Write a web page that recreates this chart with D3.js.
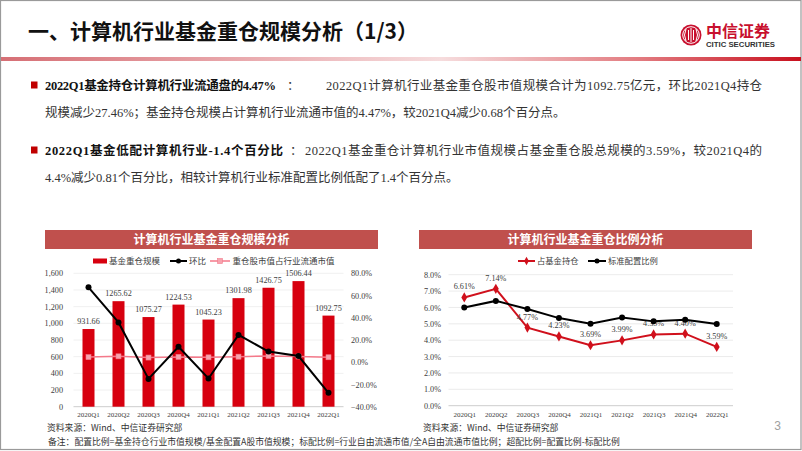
<!DOCTYPE html>
<html><head><meta charset="utf-8">
<script src="https://cdn.jsdelivr.net/npm/d3@7"></script>
<style>body{margin:0;background:#fff} svg{display:block}</style>
</head><body><svg id="c" width="802" height="451"></svg>
<script>
// ---------- data ----------
const categories = ["2020Q1","2020Q2","2020Q3","2020Q4","2021Q1","2021Q2","2021Q3","2021Q4","2022Q1"];
const holdingScale = [931.66,1265.62,1075.27,1224.53,1045.23,1301.98,1426.75,1506.44,1092.75];
const qoqChange = [67.4,35.8,-15.0,13.9,-14.6,24.6,9.6,5.6,-27.5];
const shareOfFloat = [4.6,5.3,4.2,4.8,4.4,5.0,5.6,5.15,4.47];
const leftTicks = [0,200,400,600,800,1000,1200,1400,1600];
const rightTicks = [-40,-20,0,20,40,60,80];
const fundShare = [6.61,7.14,4.77,4.23,3.69,3.99,4.35,4.40,3.59];
const standardShare = [6.0,6.4,5.9,5.35,5.0,5.38,5.15,5.25,4.99];
const ratioTicks = [0,1,2,3,4,5,6,7,8];

const SERIF = "'Liberation Serif','Times New Roman',serif";
const CJK = "'Noto Sans CJK SC','Microsoft YaHei',sans-serif";
const MIX = "'Liberation Serif','Noto Sans CJK SC',serif";

const svg = d3.select("#c");

// ---------- page frame ----------
svg.append("rect").attr("x",0.5).attr("y",0.5).attr("width",800.5).attr("height",449)
  .attr("fill","#fff").attr("stroke","#9a9a9a").attr("stroke-width",1.2);

const defs = svg.append("defs");
const g1 = defs.append("linearGradient").attr("id","hdr").attr("x1","0").attr("x2","1");
[[0,"#d66f75"],[0.3,"#e9a9ad"],[0.55,"#f6dcdd"],[0.8,"#e27a7f"],[1,"#c8101e"]].forEach(s=>
  g1.append("stop").attr("offset",s[0]).attr("stop-color",s[1]));
svg.append("rect").attr("x",1).attr("y",57).attr("width",800).attr("height",4).attr("fill","url(#hdr)");

svg.append("text").attr("x",28).attr("y",39).attr("font-family",CJK).attr("font-weight","bold")
  .attr("font-size",21).attr("fill","#111").text("一、计算机行业基金重仓规模分析（1/3）");

// logo
const logo = svg.append("g");
logo.append("circle").attr("cx",691).attr("cy",35).attr("r",10.5).attr("fill","#c8102e");
logo.append("circle").attr("cx",691).attr("cy",35).attr("r",8.3).attr("fill","none").attr("stroke","#fff").attr("stroke-width",1);
logo.append("path").attr("d","M686,29 Q683,35 686,41 M691,28 L691,42 M696,29 Q699,35 696,41 M688.5,30 L688.5,40 M693.5,30 L693.5,40")
  .attr("stroke","#fff").attr("stroke-width",1).attr("fill","none");
logo.append("text").attr("x",706).attr("y",37).attr("font-family",CJK).attr("font-weight","bold")
  .attr("font-size",16).attr("fill","#c8102e").text("中信证券");
logo.append("text").attr("x",706).attr("y",47).attr("font-family","'Liberation Sans',Arial,sans-serif").attr("font-weight","bold")
  .attr("font-size",7).attr("fill","#333").attr("textLength",69).attr("lengthAdjust","spacingAndGlyphs").text("CITIC SECURITIES");

// ---------- paragraphs ----------
const paraSegments = [
  {y:90, bullet:true, segs:[
    {x:45, w:231, bold:true, t:"2022Q1基金持仓计算机行业流通盘的4.47%"},
    {x:287, bold:false, t:"："},
    {x:326, w:436, bold:false, t:"2022Q1计算机行业基金重仓股市值规模合计为1092.75亿元，环比2021Q4持仓"}]},
  {y:117, segs:[{x:45, bold:false, t:"规模减少27.46%；基金持仓规模占计算机行业流通市值的4.47%，较2021Q4减少0.68个百分点。"}]},
  {y:155, bullet:true, segs:[
    {x:45, w:238, bold:true, t:"2022Q1基金低配计算机行业-1.4个百分比"},
    {x:290, bold:false, t:"："},
    {x:305, w:457, bold:false, t:"2022Q1基金重仓计算机行业市值规模占基金重仓股总规模的3.59%，较2021Q4的"}]},
  {y:182, segs:[{x:45, bold:false, t:"4.4%减少0.81个百分比，相较计算机行业标准配置比例低配了1.4个百分点。"}]}
];
paraSegments.forEach(p=>{
  if(p.bullet) svg.append("rect").attr("x",31).attr("y",p.y-8.5).attr("width",6.5).attr("height",7).attr("fill","#c00000");
  p.segs.forEach(s=>{
    const t = svg.append("text").attr("x",s.x).attr("y",p.y).attr("font-family",MIX).attr("font-size",12.5)
      .attr("fill",s.bold?"#111":"#333").attr("font-weight",s.bold?"bold":"normal").text(s.t);
    if(s.w) t.attr("textLength",s.w).attr("lengthAdjust","spacing");
  });
});

// ---------- left chart ----------
function banner(x0,x1,title){
  svg.append("rect").attr("x",x0).attr("y",230).attr("width",x1-x0).attr("height",19).attr("fill","#c0504d");
  svg.append("text").attr("x",(x0+x1)/2).attr("y",244).attr("text-anchor","middle").attr("font-family",CJK)
    .attr("font-weight","bold").attr("font-size",12).attr("fill","#fff").text(title);
}
banner(45,378,"计算机行业基金重仓规模分析");

const xL = d3.scaleBand().domain(categories).range([73.5,343.5]).paddingInner(0.6).paddingOuter(0.3);
const yL = d3.scaleLinear().domain([0,1600]).range([406.7,273.3]);
const yR = d3.scaleLinear().domain([-40,80]).range([406.7,273.3]);
const L = svg.append("g");

L.selectAll(".gl").data(leftTicks.slice(1)).join("line")
  .attr("x1",73.5).attr("x2",343.5).attr("y1",d=>yL(d)).attr("y2",d=>yL(d)).attr("stroke","#ececec").attr("stroke-width",0.8);
L.append("line").attr("x1",73.5).attr("x2",343.5).attr("y1",yL(0)).attr("y2",yL(0)).attr("stroke","#bfbfbf").attr("stroke-width",0.8);

const axL = d3.axisLeft(yL).tickValues(leftTicks).tickFormat(d3.format(",")).tickSize(0).tickPadding(0);
const gAxL = L.append("g").attr("transform","translate(63,0)").call(axL);
gAxL.select(".domain").remove();
gAxL.selectAll("text").attr("font-family",SERIF).attr("font-size",8.2).attr("fill","#404040");

const axR = d3.axisRight(yR).tickValues(rightTicks).tickFormat(d=>d3.format(".1f")(d)+"%").tickSize(0).tickPadding(0);
const gAxR = L.append("g").attr("transform","translate(351,0)").call(axR);
gAxR.select(".domain").remove();
gAxR.selectAll("text").attr("font-family",SERIF).attr("font-size",8.2).attr("fill","#404040");

const axB = d3.axisBottom(xL).tickSize(0).tickPadding(0);
const gAxB = L.append("g").attr("transform",`translate(0,${yL(0)+5})`).call(axB);
gAxB.select(".domain").remove();
gAxB.selectAll("text").attr("font-family",SERIF).attr("font-size",7).attr("fill","#404040");

L.selectAll(".bar").data(holdingScale).join("rect")
  .attr("x",(d,i)=>xL(categories[i])).attr("width",xL.bandwidth())
  .attr("y",d=>yL(d)).attr("height",d=>yL(0)-yL(d)).attr("fill","#d7000f");
L.selectAll(".bl").data(holdingScale).join("text")
  .attr("x",(d,i)=>xL(categories[i])+xL.bandwidth()/2).attr("y",d=>yL(d)-5)
  .attr("text-anchor","middle").attr("font-family",SERIF).attr("font-size",8.2).attr("fill","#404040")
  .text(d=>d.toFixed(2));

const cx = i=>xL(categories[i])+xL.bandwidth()/2;
const lineL = d3.line().x((d,i)=>cx(i)).y(d=>yR(d));
L.append("path").attr("d",lineL(shareOfFloat)).attr("fill","none").attr("stroke","#f4798a").attr("stroke-width",1.5);
L.selectAll(".pm").data(shareOfFloat).join("rect")
  .attr("x",(d,i)=>cx(i)-2.5).attr("y",d=>yR(d)-2.5).attr("width",5).attr("height",5)
  .attr("fill","#f7a3ae").attr("stroke","#f4798a").attr("stroke-width",0.6);

L.append("path").attr("d",lineL(qoqChange)).attr("fill","none").attr("stroke","#000").attr("stroke-width",2);
L.selectAll(".qm").data(qoqChange).join("circle")
  .attr("cx",(d,i)=>cx(i)).attr("cy",d=>yR(d)).attr("r",3).attr("fill","#000");

// left legend
const lg = svg.append("g").attr("font-family",CJK).attr("font-size",8.5).attr("fill","#404040");
lg.append("rect").attr("x",93).attr("y",258.5).attr("width",14).attr("height",5).attr("fill","#d7000f");
lg.append("text").attr("x",109).attr("y",264).text("基金重仓规模");
lg.append("line").attr("x1",170).attr("x2",187).attr("y1",261).attr("y2",261).attr("stroke","#000").attr("stroke-width",2);
lg.append("circle").attr("cx",178.5).attr("cy",261).attr("r",2.5).attr("fill","#000");
lg.append("text").attr("x",189).attr("y",264).text("环比");
lg.append("line").attr("x1",210).attr("x2",230).attr("y1",261).attr("y2",261).attr("stroke","#f4798a").attr("stroke-width",1.5);
lg.append("rect").attr("x",217.5).attr("y",258.5).attr("width",5).attr("height",5).attr("fill","#f7a3ae").attr("stroke","#f4798a").attr("stroke-width",0.6);
lg.append("text").attr("x",232.5).attr("y",264).text("重仓股市值占行业流通市值");

// ---------- right chart ----------
banner(419,752,"计算机行业基金重仓比例分析");
const xR = d3.scalePoint().domain(categories).range([448.5,732.5]).padding(0.5);
const yP = d3.scaleLinear().domain([0,8]).range([405.7,274.7]);
const R = svg.append("g");
R.selectAll(".gr").data(ratioTicks.slice(1)).join("line")
  .attr("x1",448.5).attr("x2",733).attr("y1",d=>yP(d)).attr("y2",d=>yP(d)).attr("stroke","#e6e6e6").attr("stroke-width",0.8);
R.append("line").attr("x1",448.5).attr("x2",733).attr("y1",yP(0)).attr("y2",yP(0)).attr("stroke","#bfbfbf").attr("stroke-width",0.8);

const axP = d3.axisLeft(yP).tickValues(ratioTicks).tickFormat(d=>d3.format(".1f")(d)+"%").tickSize(0).tickPadding(0);
const gAxP = R.append("g").attr("transform","translate(441,0)").call(axP);
gAxP.select(".domain").remove();
gAxP.selectAll("text").attr("font-family",SERIF).attr("font-size",8.2).attr("fill","#404040");
const axPB = d3.axisBottom(xR).tickSize(0).tickPadding(0);
const gAxPB = R.append("g").attr("transform",`translate(0,${yP(0)+6.5})`).call(axPB);
gAxPB.select(".domain").remove();
gAxPB.selectAll("text").attr("font-family",SERIF).attr("font-size",7).attr("fill","#404040");

const lineR = d3.line().x((d,i)=>xR(categories[i])).y(d=>yP(d));
R.append("path").attr("d",lineR(fundShare)).attr("fill","none").attr("stroke","#d0101c").attr("stroke-width",2);
const diamond = d3.symbol().type(d3.symbolDiamond).size(30);
R.selectAll(".dm").data(fundShare).join("path").attr("d",diamond)
  .attr("transform",(d,i)=>`translate(${xR(categories[i])},${yP(d)})`).attr("fill","#d0101c");
R.selectAll(".dl").data(fundShare).join("text")
  .attr("x",(d,i)=>xR(categories[i])).attr("y",d=>yP(d)-8)
  .attr("text-anchor","middle").attr("font-family",SERIF).attr("font-size",8.2).attr("fill","#404040")
  .text(d=>d.toFixed(2)+"%");

R.append("path").attr("d",lineR(standardShare)).attr("fill","none").attr("stroke","#000").attr("stroke-width",2);
R.selectAll(".sm").data(standardShare).join("circle")
  .attr("cx",(d,i)=>xR(categories[i])).attr("cy",d=>yP(d)).attr("r",3).attr("fill","#000");

const rg = svg.append("g").attr("font-family",CJK).attr("font-size",8.3).attr("fill","#404040");
rg.append("line").attr("x1",518).attr("x2",535).attr("y1",261).attr("y2",261).attr("stroke","#d0101c").attr("stroke-width",2);
rg.append("path").attr("d",d3.symbol().type(d3.symbolDiamond).size(20)).attr("transform","translate(526.5,261)").attr("fill","#d0101c");
rg.append("text").attr("x",537).attr("y",264).text("占基金持仓");
rg.append("line").attr("x1",588).attr("x2",606).attr("y1",261).attr("y2",261).attr("stroke","#000").attr("stroke-width",2);
rg.append("circle").attr("cx",597).attr("cy",261).attr("r",2.5).attr("fill","#000");
rg.append("text").attr("x",608).attr("y",264).text("标准配置比例");

// ---------- footer ----------
const ft = svg.append("g").attr("font-family",CJK).attr("font-size",8.8).attr("fill","#333");
ft.append("text").attr("x",47).attr("y",430.5).text("资料来源：Wind、中信证券研究部");
ft.append("text").attr("x",423).attr("y",430.5).text("资料来源：Wind、中信证券研究部");
ft.append("text").attr("x",48).attr("y",445).text("备注：配置比例=基金持仓行业市值规模/基金配置A股市值规模；标配比例=行业自由流通市值/全A自由流通市值比例；超配比例=配置比例-标配比例");
svg.append("text").attr("x",777.5).attr("y",430).attr("text-anchor","middle").attr("font-family","'Liberation Sans',sans-serif")
  .attr("font-size",12).attr("fill","#a0a0a0").text("3");
</script></body></html>
